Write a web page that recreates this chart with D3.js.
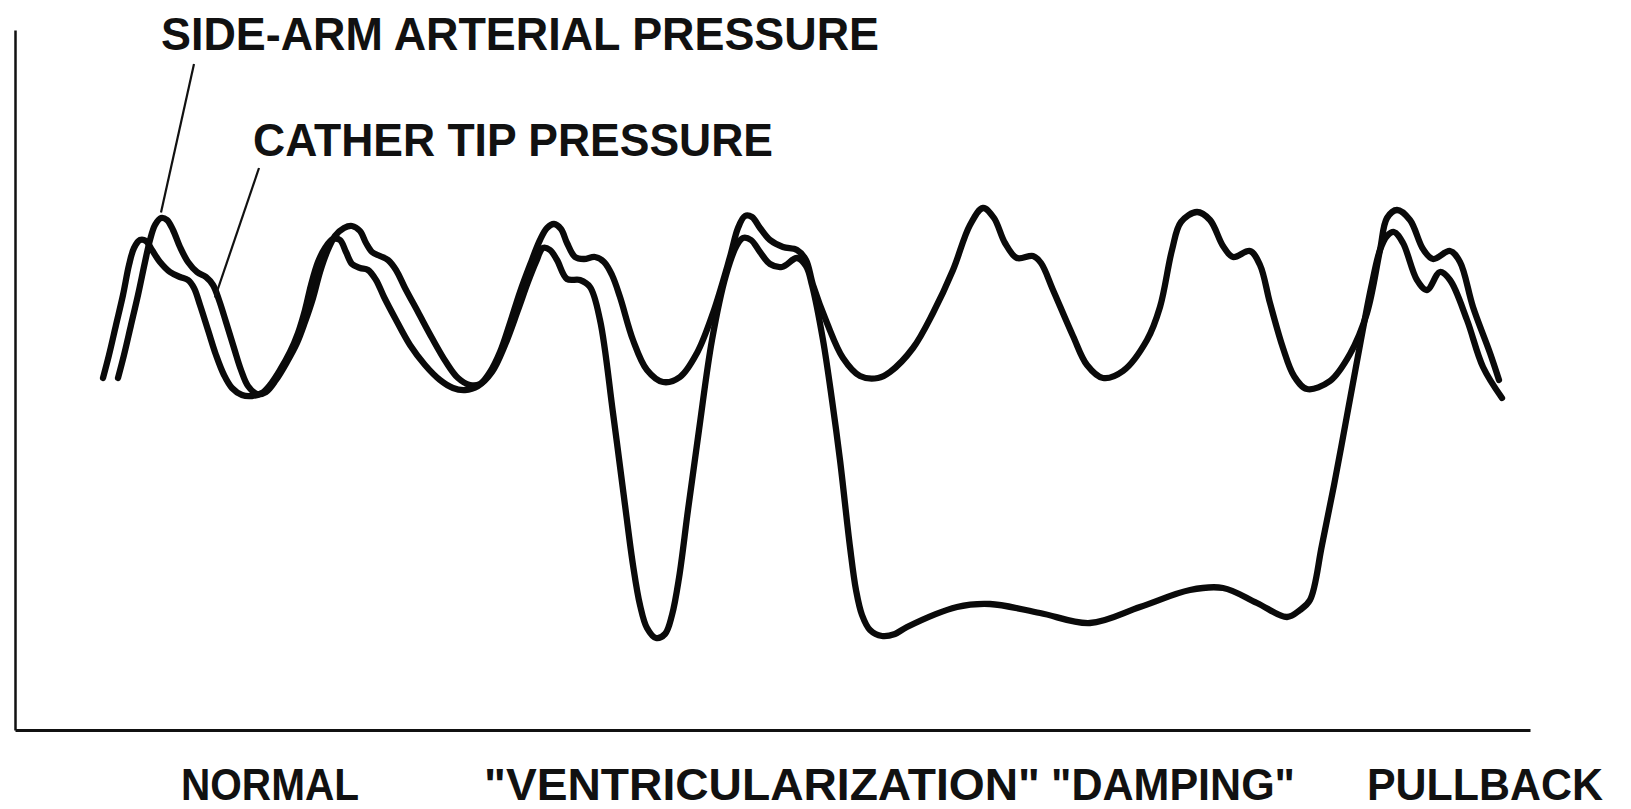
<!DOCTYPE html>
<html>
<head>
<meta charset="utf-8">
<script src="https://cdn.jsdelivr.net/npm/d3@7"></script>
<style>
  html, body { margin: 0; padding: 0; background: #fff; }
  svg { display: block; }
  text { font-family: "Liberation Sans", Arial, sans-serif; font-weight: bold; fill: #111; }
</style>
</head>
<body>
<svg id="chart" width="1631" height="809"></svg>
<script>
// ---- DATA (time in s, pressure in mmHg) ----
const sideArmTime = [0.515,0.545,0.58,0.615,0.65,0.675,0.7,0.73,0.76,0.79,0.825,0.865,0.91,0.955,0.99,1.02,1.055,1.095,1.13,1.165,1.21,1.255,1.305,1.36,1.41,1.45,1.49,1.525,1.56,1.6,1.645,1.685,1.725,1.755,1.785,1.825,1.865,1.905,1.95,2.015,2.085,2.155,2.215,2.275,2.325,2.375,2.425,2.475,2.525,2.575,2.625,2.66,2.695,2.73,2.76,2.8,2.845,2.9,2.945,2.985,3.025,3.09,3.16,3.24,3.325,3.41,3.49,3.575,3.615,3.65,3.685,3.725,3.775,3.84,3.91,3.955,3.99,4.06,4.14,4.225,4.315,4.375,4.49,4.59,4.69,4.775,4.84,4.895,4.95,5.01,5.09,5.13,5.19,5.29,5.36,5.44,5.54,5.66,5.725,5.785,5.83,5.91,5.975,6.04,6.09,6.175,6.225,6.275,6.34,6.395,6.46,6.575,6.675,6.76,6.825,6.86,6.91,6.975,7.04,7.09,7.175,7.225,7.29,7.375,7.42];
const sideArmPressure = [70.4,75,81,87,93.6,98,101,102.4,102,100,96.6,93.6,91.6,90.6,89,86,81.6,76.4,72,68.8,67.2,67.6,70,73.6,77.4,81.6,86.4,91.6,95.6,98.8,100.4,100.8,99.8,97.4,95.6,94.8,94,92,88.4,83.6,78.4,73.6,70.4,69,69.2,71.6,75.6,81.4,87.6,93,98,100.4,101.2,100.2,97.4,94.6,94.2,94.6,93.6,91,86.6,78,72,69.6,70.6,75.4,83.4,94.6,100.4,102.8,102.6,100.4,98,96.6,96,94,89,81.4,74.4,70.8,70.4,71.6,76.4,83.4,92,101,104.4,102.4,97.4,94.4,94.8,93.4,88,78.8,73,70.4,71.8,78,84.6,96,101.6,103.6,102,96.8,94.6,95.8,93,85.4,76.4,70.8,68.2,69.8,75.2,83.4,96,102.4,104,102,96.2,94.2,95.8,93.6,84.6,75.4,70];

const catheterTime = [0.44,0.47,0.505,0.54,0.57,0.595,0.625,0.655,0.685,0.725,0.775,0.825,0.865,0.895,0.925,0.965,1.005,1.045,1.085,1.135,1.185,1.235,1.275,1.325,1.375,1.415,1.45,1.48,1.515,1.55,1.59,1.625,1.655,1.685,1.725,1.765,1.805,1.845,1.9,1.975,2.05,2.125,2.19,2.25,2.315,2.385,2.45,2.515,2.565,2.605,2.64,2.675,2.71,2.76,2.825,2.875,2.925,2.99,3.05,3.09,3.125,3.16,3.205,3.25,3.285,3.32,3.365,3.42,3.485,3.555,3.61,3.64,3.68,3.725,3.775,3.835,3.91,3.955,3.985,4.04,4.085,4.125,4.175,4.205,4.235,4.275,4.335,4.4,4.46,4.71,4.875,5.125,5.375,5.625,5.875,6.04,6.21,6.36,6.425,6.475,6.535,6.6,6.665,6.725,6.78,6.825,6.86,6.895,6.94,7.01,7.06,7.125,7.175,7.26,7.34,7.435];
const catheterPressure = [70.4,75,81,87,93,96.4,98,97.8,96,93.6,91.6,90.6,90,88.4,85,80,75,71,68.4,67,66.8,67.4,69,72,75.6,79.4,84,89,93.6,96.4,98.2,98,95.6,93.2,92.4,92,90,86.6,82.4,77,73,70,68.4,68,68.8,71.6,77,84,89.6,93.6,96.4,96,94,90.2,90,88.6,82,63.4,45,33,25,20.4,18.4,19.2,23,30.4,44,60,78,91,97,98.4,98,95.6,93.2,92.6,94.4,92.8,89,78,66,54,36.6,28,23,20,18.8,19.2,20.6,24.6,25.2,23.4,21.4,24.6,28,28.4,25.4,22.6,24,26,37,50,64,77,88.4,96,98.8,99.6,97.4,90,88,91.6,90,82,72.6,66.4];

const labelSideArm = "SIDE-ARM ARTERIAL PRESSURE";
const labelCatheter = "CATHER TIP PRESSURE";
const phaseNames = ["NORMAL", "\"VENTRICULARIZATION\"", "\"DAMPING\"", "PULLBACK"];
const phaseTimes = [1.275, 3.735, 5.79, 7.35];

// ---- SCALES ----
const svg = d3.select("#chart");
const x = d3.scaleLinear().domain([0, 7.575]).range([15, 1530]);
const y = d3.scaleLinear().domain([0, 140]).range([730, 30]);

// ---- AXES (no ticks) ----
svg.append("g")
  .attr("transform", `translate(0,${y(0)})`)
  .call(d3.axisBottom(x).tickValues([]).tickSizeOuter(0))
  .select(".domain").attr("stroke", "#111").attr("stroke-width", 3);
svg.append("g")
  .attr("transform", `translate(${x(0)},0)`)
  .call(d3.axisLeft(y).tickValues([]).tickSizeOuter(0))
  .select(".domain").attr("stroke", "#111").attr("stroke-width", 2.5);

// ---- CURVES ----
const line = d3.line()
  .x(d => x(d[0])).y(d => y(d[1]))
  .curve(d3.curveCatmullRom.alpha(0.5));

const series = [
  d3.zip(sideArmTime, sideArmPressure),
  d3.zip(catheterTime, catheterPressure)
];
svg.selectAll("path.trace").data(series).join("path")
  .attr("class", "trace")
  .attr("d", line)
  .attr("fill", "none")
  .attr("stroke", "#0a0a0a")
  .attr("stroke-width", 6.3)
  .attr("stroke-linejoin", "round")
  .attr("stroke-linecap", "round");

// ---- LABELS & LEADERS ----
svg.append("text").attr("x", 161).attr("y", 50)
  .attr("font-size", 46).attr("textLength", 718).attr("lengthAdjust", "spacingAndGlyphs")
  .text(labelSideArm);
svg.append("text").attr("x", 253).attr("y", 156)
  .attr("font-size", 46).attr("textLength", 520).attr("lengthAdjust", "spacingAndGlyphs")
  .text(labelCatheter);

// leader lines anchored to features of the curves
const leaders = [
  {from: [194, 64], toT: 0.73, toP: 103.5},
  {from: [259, 168], toT: 1.0, toP: 86.5}
];
svg.selectAll("line.leader").data(leaders).join("line")
  .attr("class", "leader")
  .attr("x1", d => d.from[0]).attr("y1", d => d.from[1])
  .attr("x2", d => x(d.toT)).attr("y2", d => y(d.toP))
  .attr("stroke", "#111").attr("stroke-width", 2.2);

// phase labels
const phaseWidths = [178, 556, 244, 236];
svg.selectAll("text.phase").data(phaseNames).join("text")
  .attr("class", "phase")
  .attr("x", (d, i) => x(phaseTimes[i]) - phaseWidths[i] / 2)
  .attr("y", 800)
  .attr("font-size", 45)
  .attr("textLength", (d, i) => phaseWidths[i])
  .attr("lengthAdjust", "spacingAndGlyphs")
  .text(d => d);
</script>
</body>
</html>
